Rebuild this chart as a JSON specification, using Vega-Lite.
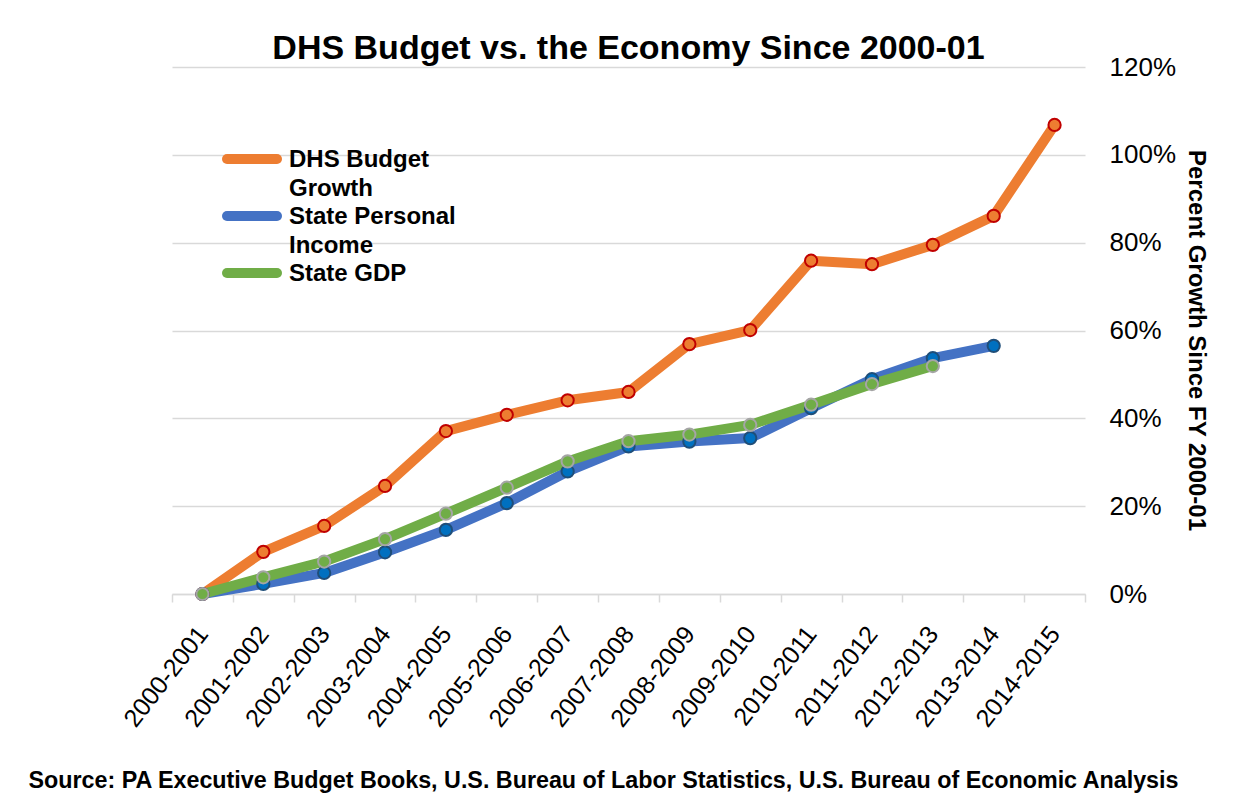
{
  "$schema": "https://vega.github.io/schema/vega-lite/v6.json",
  "autosize": "none",
  "width": 913,
  "height": 527,
  "padding": {"left": 172, "top": 67, "right": 164, "bottom": 204},
  "background": "white",
  "title": {
    "text": "DHS Budget vs. the Economy Since 2000-01",
    "font": "Liberation Sans",
    "fontSize": 34,
    "fontWeight": "bold",
    "color": "black",
    "anchor": "middle",
    "offset": 8,
    "dy": 20
  },
  "config": {
    "view": {"stroke": null},
    "font": "Liberation Sans",
    "legend": {"padding": 0, "labelLimit": 400, "rowPadding": -13}
  },
  "data": {
    "values": [
      {"year": "2000-2001", "series": "DHS Budget Growth", "pct": 0},
      {"year": "2001-2002", "series": "DHS Budget Growth", "pct": 9.6},
      {"year": "2002-2003", "series": "DHS Budget Growth", "pct": 15.5},
      {"year": "2003-2004", "series": "DHS Budget Growth", "pct": 24.6},
      {"year": "2004-2005", "series": "DHS Budget Growth", "pct": 37.1},
      {"year": "2005-2006", "series": "DHS Budget Growth", "pct": 40.8},
      {"year": "2006-2007", "series": "DHS Budget Growth", "pct": 44.1},
      {"year": "2007-2008", "series": "DHS Budget Growth", "pct": 46.0},
      {"year": "2008-2009", "series": "DHS Budget Growth", "pct": 56.9},
      {"year": "2009-2010", "series": "DHS Budget Growth", "pct": 60.1},
      {"year": "2010-2011", "series": "DHS Budget Growth", "pct": 75.9},
      {"year": "2011-2012", "series": "DHS Budget Growth", "pct": 75.1},
      {"year": "2012-2013", "series": "DHS Budget Growth", "pct": 79.5},
      {"year": "2013-2014", "series": "DHS Budget Growth", "pct": 86.1},
      {"year": "2014-2015", "series": "DHS Budget Growth", "pct": 106.8},
      {"year": "2000-2001", "series": "State Personal Income", "pct": 0},
      {"year": "2001-2002", "series": "State Personal Income", "pct": 2.3},
      {"year": "2002-2003", "series": "State Personal Income", "pct": 4.8},
      {"year": "2003-2004", "series": "State Personal Income", "pct": 9.5},
      {"year": "2004-2005", "series": "State Personal Income", "pct": 14.6},
      {"year": "2005-2006", "series": "State Personal Income", "pct": 20.7},
      {"year": "2006-2007", "series": "State Personal Income", "pct": 27.9},
      {"year": "2007-2008", "series": "State Personal Income", "pct": 33.6},
      {"year": "2008-2009", "series": "State Personal Income", "pct": 34.7},
      {"year": "2009-2010", "series": "State Personal Income", "pct": 35.5},
      {"year": "2010-2011", "series": "State Personal Income", "pct": 42.3},
      {"year": "2011-2012", "series": "State Personal Income", "pct": 48.9},
      {"year": "2012-2013", "series": "State Personal Income", "pct": 53.7},
      {"year": "2013-2014", "series": "State Personal Income", "pct": 56.5},
      {"year": "2000-2001", "series": "State GDP", "pct": 0},
      {"year": "2001-2002", "series": "State GDP", "pct": 3.8},
      {"year": "2002-2003", "series": "State GDP", "pct": 7.4},
      {"year": "2003-2004", "series": "State GDP", "pct": 12.5},
      {"year": "2004-2005", "series": "State GDP", "pct": 18.3},
      {"year": "2005-2006", "series": "State GDP", "pct": 24.2},
      {"year": "2006-2007", "series": "State GDP", "pct": 30.2},
      {"year": "2007-2008", "series": "State GDP", "pct": 34.8},
      {"year": "2008-2009", "series": "State GDP", "pct": 36.3},
      {"year": "2009-2010", "series": "State GDP", "pct": 38.5},
      {"year": "2010-2011", "series": "State GDP", "pct": 43.1},
      {"year": "2011-2012", "series": "State GDP", "pct": 47.8},
      {"year": "2012-2013", "series": "State GDP", "pct": 51.9}
    ]
  },
  "encoding": {
    "x": {
      "field": "year",
      "type": "ordinal",
      "scale": {"type": "band", "paddingInner": 0, "paddingOuter": 0},
      "axis": {
        "title": "Source: PA Executive Budget Books, U.S. Bureau of Labor Statistics, U.S. Bureau of Economic Analysis",
        "titleFontSize": 23.3,
        "titleFontWeight": "bold",
        "titleColor": "black",
        "titleAnchor": "start",
        "titleAlign": "left",
        "titleBaseline": "alphabetic",
        "titleAngle": 0,
        "titleX": -144,
        "titleY": 193,
        "labelAngle": -52,
        "labelFontSize": 25,
        "labelColor": "black",
        "labelPadding": 27,
        "tickBand": "extent",
        "tickSize": 8,
        "tickColor": "#d9d9d9",
        "tickWidth": 1.5,
        "domainColor": "#d9d9d9",
        "domainWidth": 1.5,
        "grid": false
      }
    },
    "y": {
      "field": "pct",
      "type": "quantitative",
      "scale": {"domain": [0, 120]},
      "axis": {
        "orient": "right",
        "values": [0, 20, 40, 60, 80, 100, 120],
        "labelExpr": "datum.value + '%'",
        "labelFontSize": 26,
        "labelColor": "black",
        "labelPadding": 24,
        "ticks": false,
        "domain": false,
        "gridColor": "#d9d9d9",
        "gridWidth": 1.5,
        "title": "Percent Growth Since FY 2000-01",
        "titleFontSize": 24,
        "titleFontWeight": "bold",
        "titleColor": "black",
        "titleAngle": 90,
        "titleAlign": "center",
        "titleBaseline": "middle",
        "titleX": 110,
        "titleY": 273
      }
    }
  },
  "layer": [
    {
      "mark": {"type": "line", "strokeWidth": 10, "strokeCap": "round", "strokeJoin": "round"},
      "encoding": {
        "color": {
          "field": "series",
          "type": "nominal",
          "scale": {
            "domain": ["DHS Budget Growth", "State Personal Income", "State GDP"],
            "range": ["#ED7D31", "#4472C4", "#70AD47"]
          },
          "legend": {
            "title": null,
            "orient": "none",
            "legendX": 65,
            "legendY": 77,
            "symbolType": "M-2.5,0L2.5,0",
            "symbolSize": 400,
            "symbolStrokeWidth": 10,
            "labelFontSize": 24,
            "labelFontWeight": "bold",
            "labelColor": "black",
            "labelOffset": 22,
            "labelBaseline": "alphabetic",
            "labelExpr": "datum.label == 'DHS Budget Growth' ? ['DHS Budget', 'Growth'] : datum.label == 'State Personal Income' ? ['State Personal', 'Income'] : [datum.label, '']",
            "encode": {
              "symbols": {"update": {"strokeCap": {"value": "round"}, "fill": {"value": "transparent"}}},
              "labels": {"update": {"dy": {"value": 8}, "lineHeight": {"value": 29}}}
            }
          }
        }
      }
    },
    {
      "mark": {"type": "point", "filled": true, "size": 150, "strokeWidth": 2, "opacity": 1},
      "encoding": {
        "stroke": {
          "field": "series",
          "type": "nominal",
          "scale": {
            "domain": ["DHS Budget Growth", "State Personal Income", "State GDP"],
            "range": ["#C00000", "#1F4E79", "#A5A5A5"]
          },
          "legend": {
            "title": null,
            "orient": "none",
            "legendX": 73,
            "legendY": 79,
            "symbolType": "circle",
            "symbolSize": 150,
            "symbolStrokeWidth": 2,
            "labelFontSize": 24,
            "labelFontWeight": "bold",
            "labelColor": "transparent",
            "labelOffset": 4,
            "labelBaseline": "alphabetic",
            "rowPadding": 8,
            "labelExpr": "datum.label == 'DHS Budget Growth' ? ['DHS Budget', 'Growth'] : datum.label == 'State Personal Income' ? ['State Personal', 'Income'] : [datum.label, '']",
            "encode": {
              "symbols": {"update": {"fill": {"signal": "datum.value === 'DHS Budget Growth' ? '#ED7D31' : datum.value === 'State Personal Income' ? '#0070C0' : '#70AD47'"}, "fillOpacity": {"value": 1}, "strokeWidth": {"value": 2}}},
              "labels": {"update": {"dy": {"value": 8}, "lineHeight": {"value": 29}}}
            }
          }
        },
        "fill": {
          "field": "series",
          "type": "nominal",
          "scale": {
            "domain": ["DHS Budget Growth", "State Personal Income", "State GDP"],
            "range": ["#ED7D31", "#0070C0", "#70AD47"]
          },
          "legend": null
        }
      }
    }
  ],
  "resolve": {"legend": {"color": "independent", "stroke": "independent", "fill": "independent"}}
}
